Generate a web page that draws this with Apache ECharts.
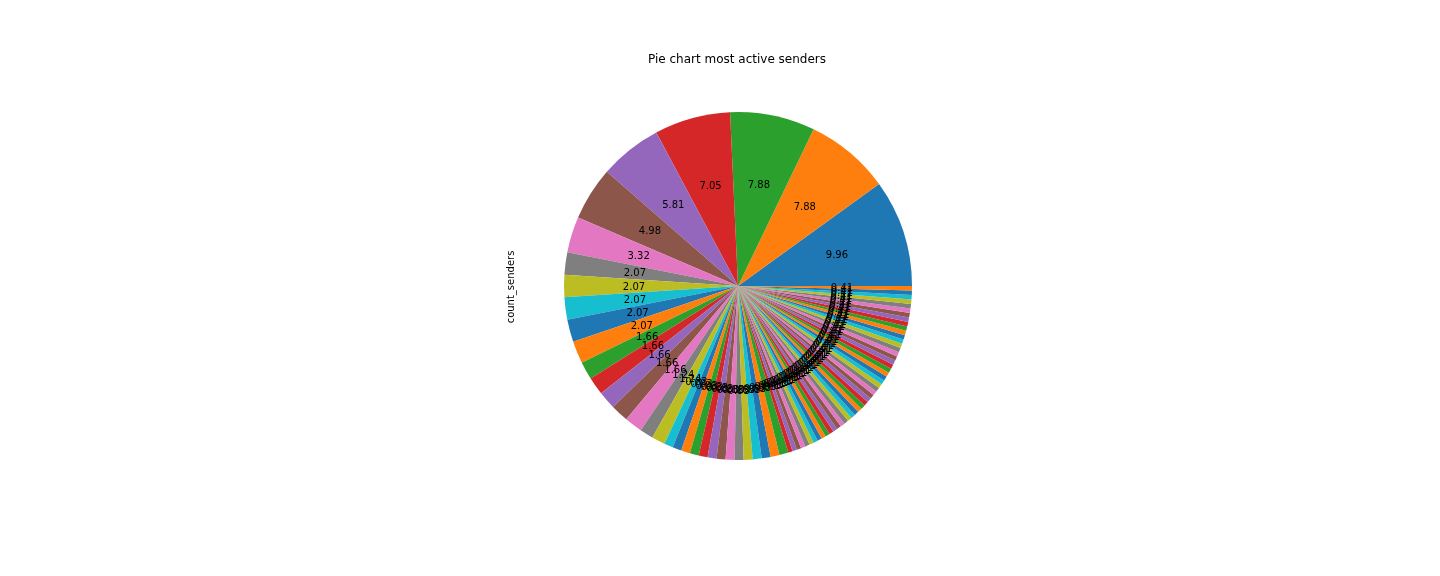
<!DOCTYPE html>
<html>
<head>
<meta charset="utf-8">
<title>Pie chart most active senders</title>
<script src="https://cdn.jsdelivr.net/npm/echarts@6/dist/echarts.min.js"></script>
<style>
  html, body { margin: 0; padding: 0; background: #fff; }
  #chart { width: 1440px; height: 576px; }
</style>
</head>
<body>
<div id="chart"></div>
<script>
// message counts per sender, in the order matplotlib drew them
const counts = [
  24, 19, 19, 17, 14, 12, 8,
  5, 5, 5, 5, 5,
  4, 4, 4, 4, 4,
  3, 3,
  2, 2, 2, 2, 2, 2, 2, 2, 2, 2, 2, 2, 2, 2,
  1, 1, 1, 1, 1, 1, 1, 1, 1, 1, 1, 1, 1, 1, 1, 1, 1, 1, 1, 1,
  1, 1, 1, 1, 1, 1, 1, 1, 1, 1, 1, 1, 1, 1, 1, 1, 1, 1, 1, 1,
  1, 1, 1, 1, 1, 1, 1, 1, 1
];
const senders = counts.map((c, i) => "sender_" + (i + 1));
const tab10 = ["#1f77b4", "#ff7f0e", "#2ca02c", "#d62728", "#9467bd",
               "#8c564b", "#e377c2", "#7f7f7f", "#bcbd22", "#17becf"];

const total = counts.reduce((a, b) => a + b, 0);
const pieData = senders.map((name, i) => ({ name: name, value: counts[i] }));

const chart = echarts.init(document.getElementById("chart"));
const font = "DejaVu Sans";
const cx = 738, cy = 286, r = 174;

chart.setOption({
  animation: false,
  color: tab10,
  graphic: [{
    type: "text",
    x: 737,
    y: 60,
    style: {
      text: "Pie chart most active senders",
      fontFamily: font,
      fontSize: 12,
      fill: "#000",
      align: "center",
      verticalAlign: "middle"
    }
  }, {
    type: "text",
    x: 511,
    y: 287,
    rotation: Math.PI / 2,
    style: {
      text: "count_senders",
      fontFamily: font,
      fontSize: 10,
      fill: "#000",
      align: "center",
      verticalAlign: "middle"
    }
  }],
  series: [
    {
      // the wedges
      type: "pie",
      center: [cx, cy],
      radius: [0, r],
      startAngle: 0,
      clockwise: false,
      silent: true,
      label: { show: false },
      labelLine: { show: false },
      itemStyle: { borderWidth: 0 },
      emphasis: { disabled: true },
      data: pieData
    },
    {
      // invisible ring used only to put the percent labels at 0.6 r
      type: "pie",
      center: [cx, cy],
      radius: [0, 202],
      startAngle: 0,
      clockwise: false,
      silent: true,
      avoidLabelOverlap: false,
      minShowLabelAngle: 0,
      labelLayout: { hideOverlap: false },
      itemStyle: { color: "transparent", borderWidth: 0 },
      emphasis: { disabled: true },
      labelLine: { show: false },
      label: {
        show: true,
        position: "inside",
        offset: [0, 1],
        fontFamily: font,
        fontSize: 10,
        color: "#000",
        formatter: p => (p.value / total * 100).toFixed(2)
      },
      data: pieData
    }
  ]
});
</script>
</body>
</html>
